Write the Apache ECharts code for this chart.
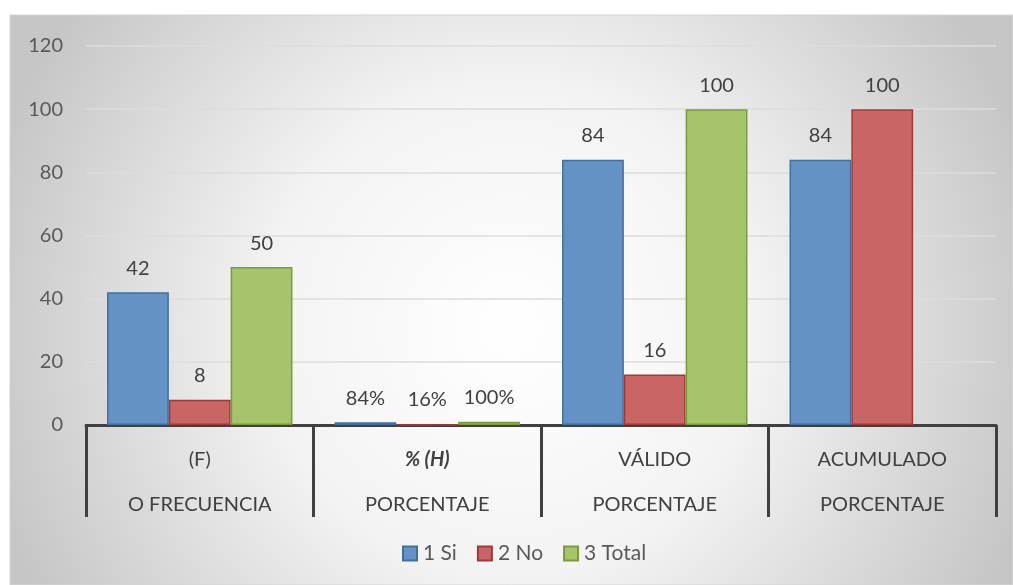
<!DOCTYPE html>
<html>
<head>
<meta charset="utf-8">
<script src="https://cdn.jsdelivr.net/npm/echarts@6/dist/echarts.min.js"></script>
<style>
  html, body { margin: 0; padding: 0; background: #ffffff; }
  #chart { width: 1013px; height: 585px; }
</style>
</head>
<body>
<div id="chart"></div>
<script>
// Two-line category labels (top line, bottom line)
const categoryTop = ['(F)', '% (H)', 'VÁLIDO', 'ACUMULADO'];
const categoryBottom = ['O FRECUENCIA', 'PORCENTAJE', 'PORCENTAJE', 'PORCENTAJE'];

// Series values; the second group is stored as fractions and labelled as percents
const seriesNames = ['1 Si', '2 No', '3 Total'];
const siValues = [42, 0.84, 84, 84];
const noValues = [8, 0.16, 16, 100];
const totalValues = [50, 1, 100, null];

// Value axis ticks
const yMin = 0;
const yMax = 120;
const yStep = 20;

const PERCENT_INDEX = 1;
const FONT = 'Lato, "Open Sans", sans-serif';

const chart = echarts.init(document.getElementById('chart'));

function makeSeries(name, values, fill, stroke) {
  return {
    name: name,
    type: 'bar',
    data: values,
    barGap: '0%',
    barCategoryGap: '18.5%',
    itemStyle: { color: fill, borderColor: stroke, borderWidth: 1.5 },
    label: {
      show: true,
      position: 'top',
      distance: 14,
      fontFamily: FONT,
      fontSize: 20,
      color: '#404040',
      formatter: function (p) {
        if (p.value == null) return '';
        if (p.dataIndex === PERCENT_INDEX) return Math.round(p.value * 100) + '%';
        return String(p.value);
      }
    }
  };
}

const option = {
  backgroundColor: '#ffffff',
  animation: false,
  graphic: {
    elements: [{
      type: 'rect',
      silent: true,
      z: -100,
      shape: { x: 10, y: 15, width: 1003, height: 570 },
      style: {
        fill: {
          type: 'radial', x: 0.5, y: 0.55, r: 0.95,
          colorStops: [
            { offset: 0, color: '#ffffff' },
            { offset: 0.45, color: '#f3f3f3' },
            { offset: 1, color: '#c6c6c6' }
          ]
        },
        stroke: '#d4d4d4',
        lineWidth: 1
      }
    }]
  },
  textStyle: { fontFamily: FONT },
  grid: { left: 86, right: 17, top: 46, bottom: 160, containLabel: false },
  legend: {
    bottom: 16,
    left: 397,
    icon: 'rect',
    itemWidth: 14,
    itemHeight: 14,
    itemGap: 20,
    textStyle: { fontFamily: FONT, fontSize: 21, color: '#595959', padding: [0, 0, 0, 1] },
    data: seriesNames
  },
  xAxis: {
    type: 'category',
    data: categoryTop.map(function (t, i) { return t + '|' + categoryBottom[i]; }),
    axisLine: { lineStyle: { color: '#404040', width: 3 } },
    axisTick: {
      show: true,
      interval: 0,
      length: 92,
      lineStyle: { color: '#404040', width: 3 }
    },
    axisLabel: {
      interval: 0,
      margin: 12,
      formatter: function (v, i) {
        const parts = v.split('|');
        const topStyle = i === PERCENT_INDEX ? 'bi' : 'n';
        return '{' + topStyle + '|' + parts[0] + '}\n{n|' + parts[1] + '}';
      },
      rich: {
        n: { fontFamily: FONT, fontSize: 20, color: '#404040', lineHeight: 45 },
        bi: { fontFamily: FONT, fontSize: 20, color: '#404040', lineHeight: 45, fontWeight: 'bold', fontStyle: 'italic' }
      }
    }
  },
  yAxis: {
    type: 'value',
    min: yMin,
    max: yMax,
    interval: yStep,
    axisLine: { show: false },
    axisTick: { show: false },
    axisLabel: { fontFamily: FONT, fontSize: 20, color: '#595959', margin: 23 },
    splitLine: { lineStyle: { color: '#dcdcdc', width: 1.5 } }
  },
  series: [
    makeSeries(seriesNames[0], siValues, '#6592c5', '#41709c'),
    makeSeries(seriesNames[1], noValues, '#c96565', '#9e3b3a'),
    makeSeries(seriesNames[2], totalValues, '#a6c46c', '#7b9a3c')
  ]
};

chart.setOption(option);
</script>
</body>
</html>
